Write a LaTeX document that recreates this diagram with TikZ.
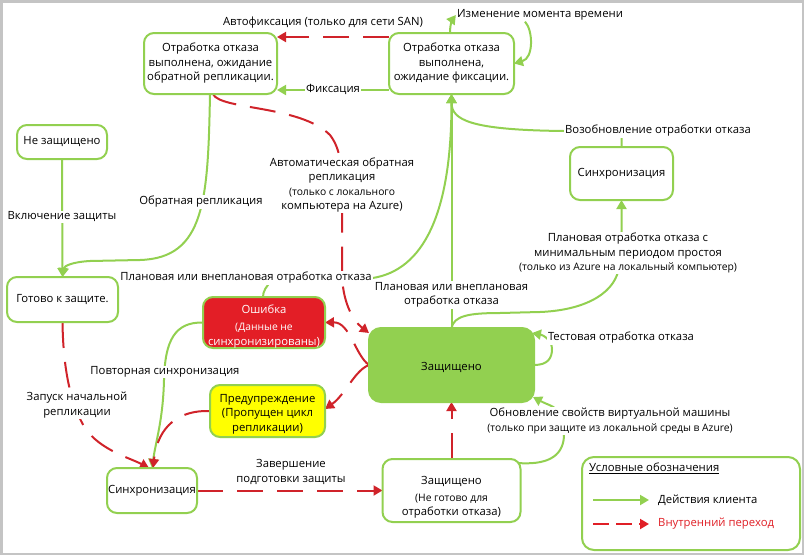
\documentclass[tikz,border=0pt]{standalone}
\usepackage{fontspec}
\setmainfont{Open Sans}
\usetikzlibrary{arrows.meta}

\definecolor{cgreen}{HTML}{92D050}
\definecolor{cred}{HTML}{D0232A}
\definecolor{cerr}{HTML}{E31E26}
\definecolor{cwarn}{HTML}{FFFF00}
\definecolor{cframe}{HTML}{C4C4C4}
\definecolor{clegred}{HTML}{E01F26}

\newcommand\smallfnt{\fontsize{10.3}{13.5}\selectfont}
% a strut that makes the first line of a state taller, so its text sits lower
\newcommand\lowerby[1]{\rule{0pt}{#1}}

\pgfdeclarelayer{links}
\pgfsetlayers{links,main}

\begin{document}
\begin{tikzpicture}[x=1pt,y=-1pt,
  font=\fontsize{11.3}{14.5}\selectfont,
  box/.style={draw=cgreen, line width=2pt, rounded corners=10pt, fill=white,
              align=center, inner sep=0pt, outer sep=0pt},
  lbl/.style={fill=white, inner sep=1pt, align=center},
  tip/.style={-{Triangle[length=9pt,width=10pt]}},
  act/.style={draw=cgreen, line width=2pt, tip},
  sysmove/.style={draw=cred, line width=2pt, dash pattern=on 26pt off 14pt, tip},
]
\useasboundingbox (0,0) rectangle (804,555);
\draw[cframe, line width=2.5pt] (1.25,1.25) rectangle (802.75,553.75);

% ---------- states ----------
\node[box, minimum width=133pt, minimum height=61pt] (tl) at (210.5,63.5)
  {Отработка отказа\\выполнена, ожидание\\обратной репликации.};
\node[box, minimum width=125pt, minimum height=61pt] (tr) at (451.5,63.5)
  {Отработка отказа\\выполнена,\\ожидание фиксации.};
\node[box, minimum width=90pt, minimum height=34pt] (nz) at (62,142) {Не защищено};
\node[box, minimum width=111pt, minimum height=45pt] (rdy) at (62.5,299.5) {Готово к защите.};
\node[box, fill=cerr, text=white, minimum width=122pt, minimum height=51pt] (err) at (264,322.5)
  {\lowerby{16pt}Ошибка\\[3pt]\smallfnt(Данные не\\синхронизированы)};
\node[box, fill=cwarn, minimum width=115pt, minimum height=52pt] (warn) at (267.5,411)
  {\lowerby{14pt}Предупреждение\\(Пропущен цикл\\репликации)};
\node[box, fill=cgreen, rounded corners=12pt, minimum width=165pt, minimum height=74pt] (prot) at (451.5,365)
  {\lowerby{14pt}Защищено};
\node[box, minimum width=103pt, minimum height=53pt] (syncR) at (621.5,173.5) {Синхронизация};
\node[box, minimum width=90pt, minimum height=45pt] (syncL) at (152,490.5) {Синхронизация};
\node[box, minimum width=138pt, minimum height=63pt] (pnr) at (451.5,490.5)
  {\lowerby{22pt}Защищено\\[2pt]\smallfnt(Не готово для\\отработки отказа)};

% ---------- transition labels ----------
\node[lbl] (Lautofix) at (323,23) {Автофиксация (только для сети SAN)};
\node[lbl] (Lfix) at (333,89) {Фиксация};
\node[lbl] (Ltime) at (540,15) {Изменение момента времени};
\node[lbl] (Lenable) at (62,217) {Включение защиты};
\node[lbl] (Lrev) at (201,202) {Обратная репликация};
\node[lbl] (Lauto) at (342,185)
  {Автоматическая обратная\\репликация\\\smallfnt(только с локального\\компьютера на Azure)};
\node[lbl] (Lpf) at (246,278) {Плановая или внеплановая отработка отказа};
\node[lbl] (Lpf2) at (451.5,295) {Плановая или внеплановая\\отработка отказа};
\node[lbl] (Lresume) at (658,131) {Возобновление отработки отказа};
\node[lbl] (Lmin) at (628,253)
  {Плановая отработка отказа с\\минимальным периодом простоя\\\smallfnt(только из Azure на локальный компьютер)};
\node[lbl] (Ltest) at (621,338) {Тестовая отработка отказа};
\node[lbl] (Lupd) at (610,421)
  {Обновление свойств виртуальной машины\\\smallfnt(только при защите из локальной среды в Azure)};
\node[lbl] (Lresync) at (165,372) {Повторная синхронизация};
\node[lbl] (Linit) at (77,405) {Запуск начальной\\репликации};
\node[lbl] (Ldone) at (291,472) {Завершение\\подготовки защиты};

% ---------- transitions ----------
\begin{pgfonlayer}{links}
  % top row
  \draw[sysmove] ([yshift=26.5pt]tr.west) -- ([yshift=26.5pt]tl.east);
  \draw[act] ([yshift=-26.5pt]tr.west) -- ([yshift=-26.5pt]tl.east);
  \draw[act] ([xshift=-1.5pt]tr.north) .. controls +(0,-10) and +(-3,4) .. (Ltime.west);
  \draw[act] ([xshift=-15pt]Ltime.south) .. controls (533,30) and (534,58) .. (tr.east);
  % enabling protection
  \draw[act] (nz.south) -- (rdy.north);
  \draw[act] ([xshift=-0.5pt]tl.south) .. controls (208,200) and (205,258) .. (140,260)
    -- (90,261) .. controls (72,262) and (64,266) .. (rdy.north);
  % automatic reverse replication
  \draw[sysmove] ([xshift=2.5pt]tl.south) .. controls (220,110) and (300,105) .. (330,135)
    .. controls (340,148) and (342,165) .. (342,190) -- (342,272)
    .. controls (342,300) and (352,320) .. ([yshift=-5pt]prot.north west);
  % failover into the waiting-for-commit state
  \draw[act] ([xshift=-1pt]err.north) .. controls (263,291) and (266,287) .. (272,280)
    -- (Lpf.east) .. controls +(50,-8) and (451.5,215) .. (tr.south);
  \draw[act] (prot.north) -- (tr.south);
  \draw[act] (syncR.north) -- (syncR.north |- Lresume) -- (Lresume.west)
    .. controls (470,130) and (451.5,120) .. (tr.south);
  \draw[act] (prot.north) .. controls (454,316) and (468,313) .. (500,313) -- (540,312)
    .. controls (590,310) and (617,290) .. (619,266) -- (syncR.south |- Lmin.north) -- (syncR.south);
  % loops on the protected state
  \draw[act] (prot.east) .. controls (548,365) and (552,358) .. (552,349)
    .. controls (552,340) and (543,335) .. ([xshift=-2pt,yshift=-5pt]prot.north east);
  \draw[act] ([xshift=-3pt,yshift=-4pt]pnr.north east) .. controls (545,465) and (563,458) .. (564,436)
    -- (557,410) .. controls (552,405) and (548,405) .. ([xshift=-1pt,yshift=5pt]prot.south east);
  \draw[sysmove] (pnr.north) -- (prot.south);
  % initial replication
  \draw[sysmove] (syncL.east) -- (pnr.west);
  \draw[sysmove] (rdy.south) .. controls (63,360) and (68,400) .. (85,428)
    .. controls (100,450) and (130,458) .. ([xshift=-3pt]syncL.north);
  \draw[act] (err.west) .. controls (175,322) and (165,340) .. (164,380)
    .. controls (163,420) and (156,440) .. (syncL.north);
  \draw[sysmove] (warn.west) .. controls (180,410) and (158,425) .. ([xshift=1pt]syncL.north);
  % health changes
  \draw[sysmove] (prot.west) .. controls (355,355) and (350,322) .. (err.east);
  \draw[sysmove] (prot.west) .. controls (355,370) and (345,395) .. ([yshift=2pt]warn.east);
\end{pgfonlayer}

% ---------- legend ----------
\node[box, rounded corners=12pt, minimum width=218pt, minimum height=93pt] (legend) at (691,503.5) {};
\node[anchor=west, inner sep=0pt] (ltitle) at (589,468) {\underline{Условные обозначения}};
\coordinate (la1) at (593,500);
\coordinate (la2) at (649,500);
\coordinate (lb1) at (593,524);
\coordinate (lb2) at (649,524);
\draw[act] (la1) -- (la2);
\draw[draw=clegred, line width=2pt, dash pattern=on 16pt off 7pt, tip] (lb1) -- (lb2);
\node[anchor=west, inner sep=0pt] (ltxt1) at (658,500) {Действия клиента};
\node[anchor=west, inner sep=0pt, text=clegred] (ltxt2) at (658,524) {Внутренний переход};
\end{tikzpicture}
\end{document}
